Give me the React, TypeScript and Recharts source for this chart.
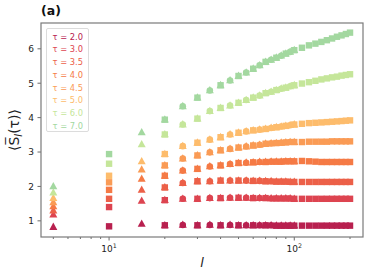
import React from 'react';
import { ScatterChart, Scatter, XAxis, YAxis } from 'recharts';

const L = [5, 10, 15, 20, 25, 30, 35, 40, 45, 50, 55, 60, 65, 70, 75, 80, 85, 90, 95, 100, 110, 120, 130, 140, 150, 160, 170, 180, 190, 200];

const TAU_LABELS = ['2.0', '3.0', '3.5', '4.0', '4.5', '5.0', '6.0', '7.0'];
const COLORS = ['#b8204f', '#dd4450', '#ec6048', '#f57a45', '#fa9b55', '#fdbc6c', '#c5e69a', '#a3d8a0'];

const S_TAU20 = [0.82, 0.84, 0.91, 0.87, 0.88, 0.87, 0.88, 0.87, 0.88, 0.87, 0.87, 0.87, 0.87, 0.87, 0.87, 0.86, 0.86, 0.86, 0.86, 0.86, 0.86, 0.86, 0.86, 0.86, 0.86, 0.86, 0.86, 0.86, 0.86, 0.86];
const S_TAU30 = [1.18, 1.40, 1.58, 1.60, 1.64, 1.64, 1.66, 1.66, 1.67, 1.67, 1.67, 1.66, 1.66, 1.66, 1.65, 1.65, 1.65, 1.65, 1.65, 1.64, 1.64, 1.64, 1.64, 1.64, 1.64, 1.64, 1.64, 1.64, 1.64, 1.64];
const S_TAU35 = [1.30, 1.64, 1.90, 1.97, 2.10, 2.15, 2.15, 2.17, 2.17, 2.17, 2.17, 2.16, 2.16, 2.15, 2.15, 2.14, 2.14, 2.14, 2.13, 2.13, 2.13, 2.13, 2.13, 2.13, 2.13, 2.13, 2.13, 2.13, 2.13, 2.13];
const S_TAU40 = [1.42, 1.90, 2.22, 2.31, 2.46, 2.51, 2.58, 2.61, 2.65, 2.68, 2.69, 2.70, 2.71, 2.71, 2.72, 2.72, 2.72, 2.73, 2.73, 2.73, 2.74, 2.73, 2.72, 2.71, 2.71, 2.71, 2.71, 2.71, 2.71, 2.71];
const S_TAU45 = [1.54, 2.12, 2.49, 2.61, 2.81, 2.90, 2.99, 3.05, 3.09, 3.13, 3.16, 3.19, 3.21, 3.24, 3.25, 3.26, 3.27, 3.28, 3.29, 3.29, 3.29, 3.30, 3.30, 3.30, 3.30, 3.31, 3.31, 3.31, 3.31, 3.31];
const S_TAU50 = [1.66, 2.31, 2.73, 2.94, 3.17, 3.27, 3.36, 3.43, 3.51, 3.56, 3.60, 3.63, 3.65, 3.67, 3.70, 3.72, 3.74, 3.76, 3.78, 3.80, 3.82, 3.84, 3.85, 3.86, 3.87, 3.88, 3.89, 3.90, 3.91, 3.92];
const S_TAU60 = [1.82, 2.66, 3.22, 3.51, 3.80, 3.97, 4.19, 4.28, 4.35, 4.43, 4.51, 4.58, 4.64, 4.71, 4.75, 4.80, 4.84, 4.87, 4.91, 4.94, 4.99, 5.03, 5.07, 5.11, 5.14, 5.17, 5.19, 5.22, 5.24, 5.26];
const S_TAU70 = [2.00, 2.94, 3.57, 3.94, 4.33, 4.58, 4.79, 4.94, 5.08, 5.21, 5.31, 5.42, 5.52, 5.62, 5.68, 5.74, 5.80, 5.86, 5.91, 5.96, 6.03, 6.10, 6.15, 6.20, 6.25, 6.30, 6.35, 6.39, 6.43, 6.47];

const SERIES = [S_TAU20, S_TAU30, S_TAU35, S_TAU40, S_TAU45, S_TAU50, S_TAU60, S_TAU70];

const X_TICKS = [5, 6, 7, 8, 9, 10, 20, 30, 40, 50, 60, 70, 80, 90, 100, 200];
const X_MAJOR = [10, 100];
const X_MAJOR_EXP = ['1', '2'];
const Y_TICKS = [1, 2, 3, 4, 5, 6];

const FONT = 'DejaVu Sans';
const FRAME = '#7a7a7a';

const CHART_W = 374;
const CHART_H = 280;
const MARGIN = { top: 23, right: 11, bottom: 13, left: 0 };
const Y_AXIS_W = 41;
const X_AXIS_H = 30;

function makeShape(color: string) {
  return (props: any) => {
    const { cx, cy, payload } = props;
    if (cx == null || cy == null) return <g />;
    const l = payload.l;
    const tri = (
      <polygon
        points={`${cx},${cy - 4.4} ${cx - 4},${cy + 2.9} ${cx + 4},${cy + 2.9}`}
        fill={color}
      />
    );
    const sq = <rect x={cx - 3.2} y={cy - 3.2} width={6.4} height={6.4} fill={color} />;
    const circ = <circle cx={cx} cy={cy} r={3.3} fill={color} />;
    if (l === 5 || l === 15) return <g>{tri}</g>;
    if (l === 10) return <g>{sq}</g>;
    if (l > 100) return <g>{sq}</g>;
    if (l % 10 === 0) return <g>{tri}{sq}</g>;
    return <g>{tri}{circ}</g>;
  };
}

const XTick = (props: any) => {
  const { x, y, payload } = props;
  const v = payload.value;
  const idx = X_MAJOR.indexOf(v);
  const major = idx >= 0;
  return (
    <g>
      <line x1={x} x2={x} y1={y} y2={y + (major ? 3.5 : 2)} stroke="#444" strokeWidth={0.8} />
      {major && (
        <text x={x} y={y + 15} textAnchor="middle" fontSize={9} fill="#222" fontFamily={FONT}>
          10
          <tspan dy={-4} fontSize={6.3}>{X_MAJOR_EXP[idx]}</tspan>
        </text>
      )}
    </g>
  );
};

const YTick = (props: any) => {
  const { x, y, payload } = props;
  return (
    <g>
      <line x1={x - 3.5} x2={x} y1={y} y2={y} stroke="#444" strokeWidth={0.8} />
      <text x={x - 7} y={y} dy={3.3} textAnchor="end" fontSize={9} fill="#222" fontFamily={FONT}>
        {payload.value}
      </text>
    </g>
  );
};

export default function App() {
  const plotL = MARGIN.left + Y_AXIS_W;
  const plotT = MARGIN.top;
  const plotR = CHART_W - MARGIN.right;
  const plotB = CHART_H - MARGIN.bottom - X_AXIS_H;
  return (
    <div style={{ position: 'absolute', left: 0, top: 0, width: CHART_W, height: CHART_H, background: '#fff', fontFamily: FONT }}>
      <ScatterChart width={CHART_W} height={CHART_H} margin={MARGIN}>
        <XAxis
          dataKey="l"
          type="number"
          scale="log"
          domain={[4.29, 235]}
          allowDataOverflow
          ticks={X_TICKS}
          interval={0}
          tick={<XTick />}
          tickLine={false}
          tickSize={0}
          tickMargin={0}
          height={X_AXIS_H}
          axisLine={false}
        />
        <YAxis
          dataKey="v"
          type="number"
          domain={[0.53, 6.75]}
          allowDataOverflow
          ticks={Y_TICKS}
          interval={0}
          tick={<YTick />}
          tickLine={false}
          tickSize={0}
          tickMargin={0}
          width={Y_AXIS_W}
          axisLine={false}
        />
        {SERIES.map((s, k) => (
          <Scatter
            key={TAU_LABELS[k]}
            name={TAU_LABELS[k]}
            data={L.map((l, i) => ({ l, v: s[i] }))}
            fill={COLORS[k]}
            shape={makeShape(COLORS[k])}
            isAnimationActive={false}
          />
        ))}
      </ScatterChart>

      <svg width={CHART_W} height={CHART_H} style={{ position: 'absolute', left: 0, top: 0, pointerEvents: 'none' }}>
        <rect
          x={plotL}
          y={plotT}
          width={plotR - plotL}
          height={plotB - plotT}
          fill="none"
          stroke={FRAME}
          strokeWidth={1.2}
        />
        <text
          transform="translate(19,130) rotate(-90)"
          textAnchor="middle"
          fontSize={14}
          fill="#222"
          fontFamily={FONT}
        >
          ⟨S̅
          <tspan fontSize={10} dy={3} fontStyle="italic">l</tspan>
          <tspan dy={-3}>(τ)⟩</tspan>
        </text>
        <text x={202} y={267} textAnchor="middle" fontSize={13} fontStyle="italic" fill="#222" fontFamily={FONT}>
          l
        </text>
      </svg>

      <div style={{ position: 'absolute', left: 41, top: 3, fontSize: 12.5, fontWeight: 'bold', color: '#111', fontFamily: FONT }}>
        (a)
      </div>

      <div
        style={{
          position: 'absolute',
          left: 45.5,
          top: 28,
          width: 43,
          height: 104,
          border: '1px solid #dcdcdc',
          borderRadius: 2,
          boxSizing: 'border-box',
          background: 'rgba(255,255,255,0.8)',
        }}
      >
        {TAU_LABELS.map((t, k) => (
          <div
            key={t}
            style={{
              position: 'absolute',
              left: 6,
              top: 1.5 + k * 12.75,
              fontSize: 8.3,
              lineHeight: '12px',
              color: COLORS[k],
              whiteSpace: 'nowrap',
              fontFamily: FONT,
            }}
          >
            {'τ = ' + t}
          </div>
        ))}
      </div>
    </div>
  );
}
